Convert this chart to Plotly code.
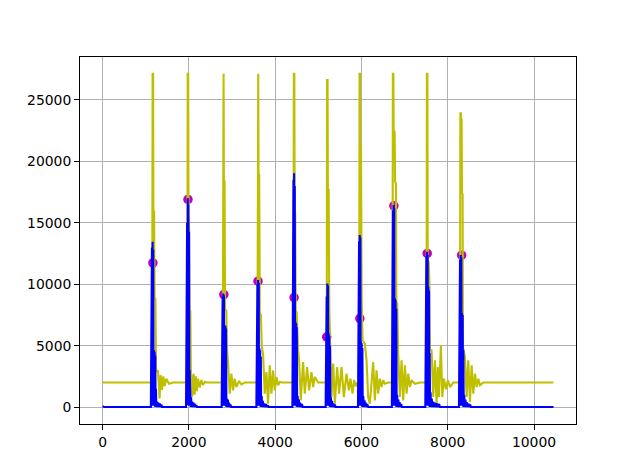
import plotly.graph_objects as go

# Yellow (envelope-like) signal: vertices
yellow_x = [0,
    1150, 1160, 1172, 1178, 1195, 1205, 1225, 1240, 1265, 1284, 1322, 1346, 1377, 1408, 1439, 1477, 1539, 1632,
    1965, 1973, 1985, 1992, 2010, 2020, 2035, 2045, 2060, 2080, 2110, 2135, 2160, 2185, 2212, 2251, 2290, 2328, 2370, 2406,
    2785, 2793, 2805, 2812, 2828, 2840, 2870, 2880, 2895, 2910, 2947, 2986, 3024, 3063, 3102, 3163, 3218, 3295,
    3588, 3596, 3608, 3615, 3630, 3645, 3670, 3690, 3720, 3759, 3798, 3836, 3875, 3914, 3952, 3991, 4030, 4068, 4107, 4160,
    4425, 4433, 4445, 4452, 4465, 4478, 4500, 4532, 4555, 4594, 4648, 4687, 4741, 4787, 4842, 4880, 4919, 4996,
    5195, 5203, 5215, 5222, 5240, 5255, 5290, 5306, 5345, 5383, 5437, 5483, 5538, 5592, 5654, 5708, 5746, 5793, 5830, 5870, 5910,
    5948, 5956, 5968, 5975, 5990, 6005, 6025, 6079, 6118, 6156, 6195, 6272, 6311, 6350, 6388, 6427, 6466, 6504, 6543, 6620,
    6720, 6728, 6740, 6747, 6770, 6780, 6800, 6810, 6830, 6852, 6891, 6930, 6968, 7007, 7046, 7084, 7123, 7162, 7239, 7355,
    7509, 7517, 7529, 7536, 7560, 7575, 7587, 7626, 7664, 7703, 7742, 7770, 7795, 7842, 7872, 7912, 7958, 8004, 8051, 8128,
    8284, 8292, 8304, 8310, 8322, 8330, 8345, 8352, 8399, 8438, 8476, 8515, 8554, 8592, 8631, 8670, 8708, 8747, 8824,
    10450]
yellow_y = [2000,
    2000, 27140, 27140, 16000, 15900, 8900, 8850, 3000, 2900, 3010, 700, 2600, 1400, 2500, 1700, 2300, 1900, 2000,
    2000, 27140, 27140, 15600, 14100, 7900, 7800, 3200, 2400, 840, 2700, 1000, 2500, 1300, 2300, 1600, 2200, 1800, 2050, 2000,
    2000, 27140, 27140, 18480, 18400, 7900, 7850, 4900, 3670, 3500, 1090, 2720, 1360, 2310, 1630, 2120, 1850, 2000,
    2000, 27140, 27140, 19030, 18900, 7610, 7500, 4890, 4350, 1090, 2850, 270, 3400, 1090, 2990, 1360, 2450, 1770, 2050, 2000,
    2000, 27140, 27140, 16000, 15800, 7880, 7700, 4620, 3810, 550, 3670, 1090, 3260, 1360, 2850, 1630, 2450, 2000,
    2000, 26630, 26630, 17810, 17700, 8000, 3540, 815, 3540, 270, 3260, 1090, 3260, 815, 2720, 1360, 2310, 1100, 2200, 1700, 2000,
    2000, 27140, 27140, 21340, 21200, 8840, 5440, 5170, 3810, 815, 270, 3670, 540, 2990, 1090, 2310, 1630, 2180, 1900, 2000,
    2000, 27140, 27140, 22560, 22400, 18350, 18200, 8560, 8400, 4350, 815, 3810, 540, 3400, 1090, 2720, 1630, 2180, 1900, 2000,
    2000, 27140, 27140, 12000, 11800, 10060, 4620, 4620, 815, 3810, 270, 3260, 815, 5030, 815, 2310, 1450, 2180, 1630, 2000,
    2000, 23920, 23920, 23430, 23400, 17400, 17300, 4890, 4080, 815, 3810, 410, 3400, 1090, 2720, 1630, 2310, 1770, 2000,
    2000]

# Blue (dense) signal: vertices
blue_x = [0, 40,
    1120, 1128, 1136, 1145, 1152, 1160, 1168, 1175, 1182, 1190, 1198, 1206, 1214, 1222, 1230, 1238, 1246, 1262, 1275, 1290, 1305, 1325, 1340, 1362, 1380,
    1935, 1943, 1951, 1960, 1967, 1975, 1983, 1990, 1997, 2004, 2011, 2018, 2026, 2034, 2042, 2052, 2062, 2078, 2092, 2110, 2125, 2145, 2160, 2175, 2190,
    2760, 2768, 2776, 2784, 2791, 2799, 2806, 2814, 2821, 2830, 2838, 2846, 2854, 2862, 2870, 2880, 2892, 2905, 2918, 2932, 2946, 2965, 2980,
    3565, 3573, 3581, 3590, 3597, 3605, 3612, 3620, 3627, 3636, 3644, 3652, 3660, 3668, 3676, 3688, 3700, 3715, 3730, 3748, 3765, 3790, 3810, 3835, 3850,
    4400, 4408, 4416, 4425, 4432, 4440, 4447, 4455, 4462, 4470, 4478, 4486, 4494, 4502, 4510, 4522, 4534, 4550, 4565, 4580, 4595, 4620, 4640,
    5170, 5178, 5186, 5195, 5202, 5210, 5217, 5225, 5232, 5240, 5248, 5256, 5264, 5272, 5280, 5292, 5304, 5318, 5332, 5348, 5362, 5385, 5400,
    5920, 5928, 5936, 5945, 5952, 5960, 5967, 5975, 5982, 5990, 5998, 6006, 6014, 6022, 6030, 6042, 6054, 6070, 6085, 6100, 6115, 6135, 6155,
    6705, 6713, 6721, 6730, 6737, 6745, 6752, 6760, 6767, 6776, 6784, 6792, 6800, 6808, 6816, 6828, 6840, 6855, 6870, 6885, 6900, 6920, 6940,
    7480, 7488, 7496, 7505, 7512, 7520, 7527, 7535, 7542, 7550, 7558, 7566, 7574, 7582, 7590, 7602, 7614, 7630, 7645, 7665, 7680, 7700, 7720, 7750, 7770, 7800, 7820,
    8260, 8268, 8276, 8285, 8292, 8300, 8307, 8315, 8322, 8330, 8338, 8346, 8354, 8362, 8370, 8382, 8394, 8410, 8425, 8440, 8455, 8480, 8500, 8520, 8540,
    10450]
blue_y = [80, 0,
    0, 9000, 100, 13000, 200, 13460, 100, 12800, 200, 4640, 100, 4500, 50, 4200, 0, 1500, 0, 450, 0, 380, 0, 300, 0, 200, 0,
    0, 9000, 100, 15000, 200, 17000, 150, 16500, 200, 14280, 100, 3010, 0, 2900, 0, 800, 0, 450, 0, 350, 0, 250, 0, 150, 0,
    0, 6000, 100, 9000, 150, 9250, 100, 9100, 150, 6680, 100, 6600, 80, 6400, 0, 700, 0, 600, 0, 350, 0, 200, 0,
    0, 7000, 100, 10000, 150, 10340, 100, 10100, 150, 4780, 100, 4600, 50, 4100, 0, 900, 0, 500, 0, 300, 0, 250, 0, 150, 0,
    0, 12000, 100, 18500, 150, 19030, 100, 18000, 150, 6950, 100, 6800, 50, 6500, 0, 900, 0, 600, 0, 350, 0, 250, 0,
    0, 5800, 100, 9000, 150, 10070, 100, 9900, 150, 6000, 100, 5800, 50, 5000, 0, 800, 0, 500, 0, 300, 0, 200, 0,
    0, 7000, 100, 13500, 150, 14000, 100, 13800, 150, 5320, 100, 5200, 50, 4800, 0, 900, 0, 550, 0, 350, 0, 250, 0,
    0, 10000, 100, 16000, 150, 16450, 100, 16200, 150, 8850, 100, 8700, 50, 8000, 0, 1000, 0, 600, 0, 400, 0, 250, 0,
    0, 8000, 100, 12300, 150, 12650, 100, 12400, 150, 9800, 100, 9500, 50, 4400, 0, 1200, 0, 700, 0, 450, 0, 350, 0, 300, 0, 250, 0,
    0, 7000, 100, 12000, 150, 12380, 100, 12200, 150, 7650, 100, 7500, 50, 4640, 0, 1000, 0, 600, 0, 400, 0, 300, 0, 200, 0,
    0]

# Magenta detected peaks
peak_x = [1167, 1980, 2811, 3603, 4439, 5195, 5963, 6752, 7524, 8322]
peak_y = [11739, 16907, 9163, 10247, 8918, 5706, 7206, 16386, 12505, 12367]

x_ticks = [0, 2000, 4000, 6000, 8000, 10000]
y_ticks = [0, 5000, 10000, 15000, 20000, 25000]

fig = go.Figure()
fig.add_trace(go.Scatter(x=peak_x, y=peak_y, mode="markers",
                         marker=dict(color="#bf00bf", size=9.5, line=dict(width=0))))
fig.add_trace(go.Scatter(x=yellow_x, y=yellow_y, mode="lines",
                         line=dict(color="#bfbf00", width=2.1)))
fig.add_trace(go.Scatter(x=blue_x, y=blue_y, mode="lines",
                         line=dict(color="#0000ff", width=2.1)))

axis_common = dict(showgrid=True, gridcolor="#b0b0b0", gridwidth=0.8,
                   showline=True, linecolor="black", linewidth=1, mirror=True,
                   ticks="outside", ticklen=4.9, tickwidth=0.8, tickcolor="black",
                   zeroline=False,
                   tickfont=dict(family="DejaVu Sans", size=13.9, color="black"))

# The page body has an 8px default margin; size/margins compensate so the
# plotting area lands where matplotlib's default axes box is (80..576, 57..424).
fig.update_layout(
    width=632, height=468, autosize=False,
    margin=dict(l=72, r=64, t=49, b=52, pad=0),
    paper_bgcolor="white", plot_bgcolor="white",
    showlegend=False,
    xaxis=dict(range=[-522.5, 10972.5], tickvals=x_ticks, ticktext=[str(v) for v in x_ticks], **axis_common),
    yaxis=dict(range=[-1378, 28500], tickvals=y_ticks, ticktext=[str(v) for v in y_ticks], **axis_common),
)

fig.write_html("out.html")
